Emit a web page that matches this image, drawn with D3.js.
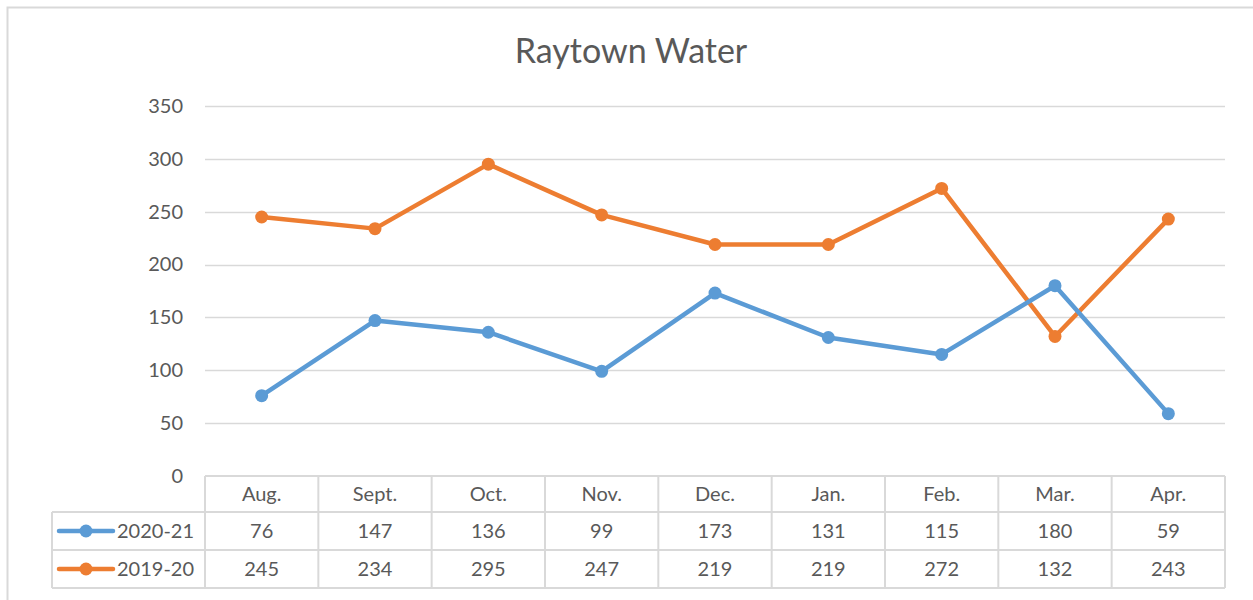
<!DOCTYPE html>
<html>
<head>
<meta charset="utf-8">
<script src="https://cdn.jsdelivr.net/npm/d3@7"></script>
<style>
  html, body { margin: 0; padding: 0; background: #fff; }
  svg { display: block; }
  text { font-family: Lato, "Open Sans", sans-serif; fill: #595959; }
</style>
</head>
<body>
<svg id="chart" width="1253" height="600"></svg>
<script>
// Monthly readings per season
const months = ["Aug.", "Sept.", "Oct.", "Nov.", "Dec.", "Jan.", "Feb.", "Mar.", "Apr."];
const season2021 = [76, 147, 136, 99, 173, 131, 115, 180, 59];
const season1920 = [245, 234, 295, 247, 219, 219, 272, 132, 243];
const yTicks = [0, 50, 100, 150, 200, 250, 300, 350];
const seriesNames = ["2020-21", "2019-20"];
const seriesColors = ["#5B9BD5", "#ED7D31"];
const title = "Raytown Water";

const series = [
  { name: seriesNames[0], values: season2021, color: seriesColors[0] },
  { name: seriesNames[1], values: season1920, color: seriesColors[1] }
];

const svg = d3.select("#chart");
const W = 1253, H = 600;
const plot = { left: 205, right: 1225, top: 106, bottom: 476 };
const rowH = [36, 38, 38];
const legendLeft = 52;
const grid = "#d9d9d9";
const fs = 20;

// Outer chart frame
svg.append("rect")
  .attr("x", 7.5).attr("y", 7.5)
  .attr("width", W + 10).attr("height", H + 10)
  .attr("fill", "none").attr("stroke", grid).attr("stroke-width", 2);

// Title
svg.append("text")
  .attr("x", 631).attr("y", 63)
  .attr("text-anchor", "middle")
  .attr("font-size", 34)
  .text(title);

const x = d3.scaleBand().domain(months).range([plot.left, plot.right]);
const y = d3.scaleLinear().domain([0, 350]).range([plot.bottom, plot.top]);

// Horizontal gridlines
svg.append("g").selectAll("line")
  .data(yTicks.filter(d => d > 0))
  .join("line")
  .attr("x1", plot.left).attr("x2", plot.right)
  .attr("y1", d => Math.round(y(d)) + 0.5).attr("y2", d => Math.round(y(d)) + 0.5)
  .attr("stroke", grid).attr("stroke-width", 1.5);

// Y axis labels
const yAxis = d3.axisLeft(y).tickValues(yTicks).tickSize(0).tickPadding(22);
const ya = svg.append("g").attr("transform", `translate(${plot.left},0)`).call(yAxis);
ya.select(".domain").remove();
ya.selectAll("text").attr("font-size", fs).attr("fill", "#595959")
  .style("font-family", "Lato, 'Open Sans', sans-serif");

// Data table beneath the plot
const tTop = plot.bottom;
const rowY = [tTop, tTop + rowH[0], tTop + rowH[0] + rowH[1], tTop + rowH[0] + rowH[1] + rowH[2]];
const tg = svg.append("g").attr("stroke", grid).attr("stroke-width", 2).attr("fill", "none");

// horizontal rules
tg.append("line").attr("x1", plot.left).attr("x2", plot.right).attr("y1", rowY[0]).attr("y2", rowY[0]);
[1, 2, 3].forEach(i => {
  tg.append("line").attr("x1", legendLeft).attr("x2", plot.right).attr("y1", rowY[i]).attr("y2", rowY[i]);
});
// vertical rules
tg.append("line").attr("x1", legendLeft).attr("x2", legendLeft).attr("y1", rowY[1]).attr("y2", rowY[3]);
months.forEach(m => {
  tg.append("line").attr("x1", x(m)).attr("x2", x(m)).attr("y1", rowY[0]).attr("y2", rowY[3]);
});
tg.append("line").attr("x1", plot.right).attr("x2", plot.right).attr("y1", rowY[0]).attr("y2", rowY[3]);

// header labels
svg.append("g").selectAll("text")
  .data(months).join("text")
  .attr("x", d => x(d) + x.bandwidth() / 2)
  .attr("y", (rowY[0] + rowY[1]) / 2 + 7)
  .attr("text-anchor", "middle").attr("font-size", fs)
  .text(d => d);

// series rows
series.forEach((s, i) => {
  const cy = (rowY[i + 1] + rowY[i + 2]) / 2;
  const g = svg.append("g");
  g.selectAll("text.val")
    .data(s.values).join("text")
    .attr("class", "val")
    .attr("x", (d, j) => x(months[j]) + x.bandwidth() / 2)
    .attr("y", cy + 7)
    .attr("text-anchor", "middle").attr("font-size", fs)
    .text(d => d);
  // legend key
  g.append("line").attr("x1", 59).attr("x2", 113).attr("y1", cy).attr("y2", cy)
    .attr("stroke", s.color).attr("stroke-width", 4.5).attr("stroke-linecap", "round");
  g.append("circle").attr("cx", 86).attr("cy", cy).attr("r", 6.5).attr("fill", s.color);
  g.append("text").attr("x", 117).attr("y", cy + 7).attr("font-size", fs).text(s.name);
});

// Lines and markers
const line = d3.line()
  .x((d, j) => x(months[j]) + x.bandwidth() / 2)
  .y(d => y(d));

[series[1], series[0]].forEach(s => {
  svg.append("path").datum(s.values)
    .attr("d", line)
    .attr("fill", "none").attr("stroke", s.color)
    .attr("stroke-width", 4.5).attr("stroke-linejoin", "round").attr("stroke-linecap", "round");
  svg.append("g").selectAll("circle")
    .data(s.values).join("circle")
    .attr("cx", (d, j) => x(months[j]) + x.bandwidth() / 2)
    .attr("cy", d => y(d))
    .attr("r", 6.5).attr("fill", s.color);
});
</script>
</body>
</html>
